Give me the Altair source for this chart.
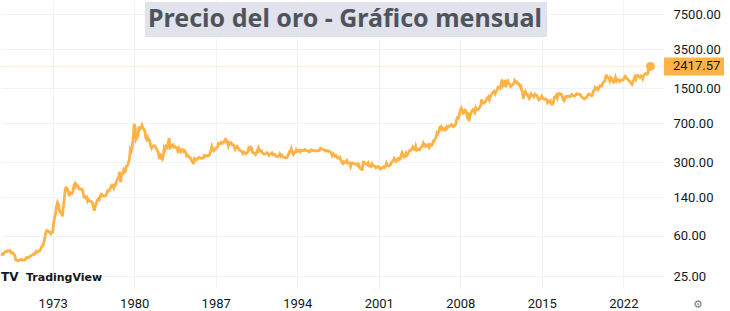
import altair as alt
import pandas as pd

closes_1968_1979 = [
    39.5, 40, 40.5, 40, 41.5, 42.5,
    42.5, 42.5, 43.5, 43.3, 43.5, 41.5, 42, 41, 40.5, 39, 35.5, 35.2,
    34.9, 34.9, 35.5, 35.6, 35.9, 35.4, 35.3, 35.4, 36.2, 37.5, 37.4, 37.4,
    38, 38.7, 38.9, 39.5, 40.5, 40.1, 41, 42.7, 42, 42.5, 43.5, 43.6,
    45.8, 48.3, 48.3, 52, 58, 65, 67.5, 67, 65.5, 64.8, 62.9, 64.9,
    65.1, 80, 90, 98, 115, 124, 118, 104, 100, 98, 92, 112,
    135, 168, 172, 168, 160, 143, 154, 154.1, 151.7, 158.5, 182, 188,
    176, 181.7, 178, 167, 167, 166, 166.7, 161, 141, 142.5, 137.9, 140.3,
    128, 132.3, 128.8, 128.4, 125.5, 123.8, 112.5, 104, 116, 123.2, 130.3, 134.5,
    132.3, 142.8, 148.9, 147.8, 143, 143, 144.1, 146.2, 154.1, 161.5, 160.5, 165,
    175.8, 182.3, 181, 170.9, 183.2, 183, 200.3, 208.1, 217.1, 242.6, 193.4, 226,
    233.7, 251.3, 240.1, 245.3, 274.6, 277.5, 294.7, 315.1, 397.3, 382, 415.7, 512,
]
closes_1980s = [
    690, 637, 494.5, 518, 535.5, 653, 614.2, 631.3, 670, 629, 619.8, 589.8,
    506.5, 489, 513.8, 482.8, 479.3, 426, 406, 425, 428.8, 427, 414.5, 397.5,
    387, 362.6, 320, 361.2, 325.3, 317.5, 342.9, 411.5, 397, 423.2, 414, 456.9,
    505, 408.5, 414.8, 429.3, 437.5, 416, 422, 414.3, 405, 382, 405, 382.4,
    373.8, 394.3, 394.3, 377.5, 384, 373.1, 342.4, 347.7, 341.3, 333, 329, 309,
    306.7, 287.8, 325.3, 321.4, 314, 317.8, 327.5, 333.3, 326.5, 325.1, 325.3, 326.8,
    345.5, 339.3, 344, 345.8, 343.2, 345.5, 357.5, 384.7, 423.2, 401, 383.5, 390.9,
    405.9, 405.9, 421.5, 453.3, 451, 447.3, 462.5, 453.4, 459.5, 468.8, 492.5, 484.1,
    458, 426.2, 456.9, 449, 455.5, 436.6, 436.8, 427.8, 397.8, 412.4, 422.6, 410.2,
    394, 387, 383.2, 377.6, 361.8, 373, 368.3, 359.8, 366.5, 375.3, 408.2, 398.6,
]
closes_1990s = [
    415.1, 407.7, 368.5, 367.8, 363.1, 352.2, 362.5, 387.8, 408.4, 379.5, 384.9, 386.2,
    366, 362.7, 355.7, 357.8, 360.4, 368.4, 362.9, 347.4, 354.9, 357.5, 366.3, 353.2,
    354.5, 353.3, 341.7, 336.4, 337.5, 343.4, 357.8, 340.3, 349, 339.3, 334.2, 332.9,
    329.5, 329.4, 337.8, 354.3, 377.5, 378.5, 401.8, 371.6, 355.5, 369.6, 370.9, 391.8,
    377.9, 381.6, 389.2, 376.5, 387.6, 388.3, 383.8, 386.4, 394.9, 389.1, 383.1, 383.3,
    374.9, 376.4, 392, 389.8, 384.3, 387.1, 383.4, 382.4, 384, 382.7, 387.8, 387,
    405.6, 400.7, 396.4, 393.8, 390.9, 382, 385.3, 386.5, 379, 379.5, 371.3, 369.3,
    345.5, 358.6, 348.2, 340.2, 345.6, 334.6, 326.4, 325.4, 332.1, 311.4, 296.8, 290.2,
    301.6, 297.4, 301, 310.7, 293.6, 296.3, 288.9, 273.4, 293.9, 292.3, 294.7, 287.8,
    287.1, 287.3, 279.5, 286.6, 268.6, 261.3, 255.6, 254.8, 299, 299.1, 291.4, 290.3,
]
closes_2000s = [
    283.3, 293.7, 276.8, 275.1, 272.3, 288.2, 276.8, 277, 273.7, 264.5, 269.1, 272.7,
    265.6, 266.7, 257.7, 263.2, 267.5, 270.6, 265.9, 273, 293.1, 278.8, 275.5, 276.5,
    282.3, 296.9, 301.4, 308.2, 326.6, 318.5, 304.7, 312.8, 323.7, 316.9, 319.1, 347.2,
    367.5, 347.5, 334.9, 336.8, 361.4, 346, 354.8, 375.6, 388, 386.3, 398.4, 416.3,
    399.8, 395.9, 423.7, 388.5, 393.3, 395.8, 391.4, 407.3, 415.7, 425.6, 453.4, 435.6,
    422.2, 435.5, 427.5, 435.7, 414.5, 437.1, 429, 433.3, 473.3, 470.8, 495.7, 513,
    568.8, 556, 582, 644, 653, 613.5, 632.5, 623.5, 599.3, 603.8, 646.7, 632,
    650.5, 664.2, 661.8, 677, 659.1, 650.5, 665.5, 672, 743, 789.5, 783.5, 833.8,
    923.3, 971.5, 933.5, 871, 885.8, 930.3, 918, 833, 884.5, 730.8, 814.5, 869.8,
    919.5, 942.5, 916.5, 883.3, 975.5, 934.5, 939, 955.5, 995.8, 1040, 1175.8, 1087.5,
]
closes_2010s = [
    1078.5, 1109, 1115.5, 1179.3, 1207.5, 1244, 1169, 1246, 1307, 1346.8, 1383.5, 1405.5,
    1332, 1411, 1439, 1535.5, 1536.5, 1505.5, 1628.5, 1813.5, 1620, 1722, 1746, 1531,
    1744, 1770, 1662.5, 1651.3, 1558, 1598.5, 1622, 1648.5, 1776, 1719, 1726, 1657.5,
    1664.8, 1588.5, 1598.3, 1469, 1394.5, 1192, 1314.5, 1394.8, 1326.5, 1324, 1253, 1204.5,
    1251, 1326.5, 1291.8, 1288.5, 1250.5, 1315, 1285.3, 1285.8, 1216.5, 1164.3, 1182.8, 1206,
    1260.3, 1214, 1187, 1180.3, 1191.4, 1171, 1098.4, 1135, 1114, 1142.4, 1065, 1060.3,
    1111, 1234.9, 1237, 1285.7, 1213.5, 1320.8, 1342, 1309, 1322.5, 1272, 1173, 1146,
    1212.8, 1255.6, 1244.9, 1266.5, 1266.2, 1242.3, 1266.6, 1311.8, 1283.1, 1270.2, 1276.6, 1291,
    1331.3, 1317.9, 1323.9, 1315, 1303, 1250.5, 1223.5, 1201.5, 1187.3, 1214.6, 1222.7, 1279,
    1321.4, 1319.7, 1295.4, 1282.3, 1283.7, 1409, 1419.9, 1523, 1485.3, 1510.9, 1463.5, 1523,
]
closes_2020s = [
    1589.2, 1582.2, 1577.2, 1686.5, 1715.9, 1768.1, 1962.8, 1967.5, 1886.9, 1879.9, 1762.6, 1895,
    1847.7, 1743.3, 1707.7, 1768.6, 1903.9, 1763.2, 1814.9, 1812.9, 1742.8, 1783.4, 1774.3, 1806.9,
    1797.2, 1900.7, 1954, 1911.3, 1837, 1817, 1765.9, 1726.6, 1671.8, 1640.6, 1753.5, 1812.4,
    1927.7, 1836.7, 1969.3, 1990.8, 1962.9, 1912.3, 1965.1, 1940.2, 1848.6, 1983.9, 2035.5, 2062.9,
    2039.5, 2044.3, 2229.9, 2286.3, 2417.57,
]
first_month = "1968-07-01"
y_ticks = [25, 60, 140, 300, 700, 1500, 3500, 7500]
x_tick_years = [1973, 1980, 1987, 1994, 2001, 2008, 2015, 2022]
title_text = "Precio del oro - Gráfico mensual"
last_label = "2417.57"

prices = (closes_1968_1979 + closes_1980s + closes_1990s
          + closes_2000s + closes_2010s + closes_2020s)
dates = pd.date_range(first_month, periods=len(prices), freq="MS").strftime("%Y-%m-%d")
df = pd.DataFrame({"date": dates, "price": prices})
last = df.tail(1).assign(label=last_label)

ORANGE = "#FFB347"
TXT = "#131722"
AXFONT = "Roboto"

x_enc = alt.X(
    "date:T",
    scale=alt.Scale(
        type="utc",
        domain=[alt.DateTime(year=1968, month=7, date=24, utc=True),
                alt.DateTime(year=2025, month=6, date=30, utc=True)],
    ),
    axis=alt.Axis(
        title=None, values=[alt.DateTime(year=y, month=1, date=1, utc=True) for y in x_tick_years],
        formatType="utc", format="%Y", grid=True, gridColor="#f0f3fa", domain=False,
        ticks=False, labelPadding=9, labelFontSize=13, labelColor=TXT, labelFont=AXFONT,
        labelFlush=False,
    ),
)
y_enc = alt.Y(
    "price:Q",
    scale=alt.Scale(type="log", domain=[19.25, 10285], nice=False),
    axis=alt.Axis(
        title=None, orient="right", values=y_ticks, format=".2f", grid=True,
        gridColor="#f0f3fa", domain=False, ticks=False, labelPadding=9,
        labelAlign="left", labelFontSize=13, labelColor=TXT, labelFont=AXFONT,
    ),
)

line = alt.Chart(df).mark_line(color=ORANGE, strokeWidth=2.8, clip=True).encode(x=x_enc, y=y_enc)
price_line = alt.Chart(last).mark_rule(color=ORANGE, opacity=0.22, strokeWidth=1).encode(y=y_enc)
dot = alt.Chart(last).mark_circle(color=ORANGE, opacity=1, size=80).encode(x=x_enc, y=y_enc)
label_box = alt.Chart(last).mark_point(
    shape="M-1,-0.3H1V0.3H-1Z", size=3600, filled=True, opacity=1, color=ORANGE, strokeWidth=0
).encode(x=alt.value(693), y=y_enc)
label_txt = alt.Chart(last).mark_text(
    align="left", baseline="middle", font=AXFONT, fontSize=13, color=TXT
).encode(x=alt.value(672), y=y_enc, text="label:N")

deco = pd.DataFrame({"t": [title_text]})
title_box = alt.Chart(deco).mark_rect(color="#e0e3eb").encode(
    x=alt.value(144), x2=alt.value(546), y=alt.value(2), y2=alt.value(37)
)
title = alt.Chart(deco).mark_text(
    font="Noto Sans", fontSize=25, fontWeight="bold", color="#50535e",
    align="center", baseline="alphabetic"
).encode(x=alt.value(344), y=alt.value(27), text="t:N")

logo_df = pd.DataFrame({"icon": ["TV"], "name": ["TradingView"], "gear": ["⚙"]})
logo_icon = alt.Chart(logo_df).mark_text(
    font="DejaVu Sans", fontSize=12, fontWeight="bold", color=TXT, align="left", baseline="alphabetic"
).encode(x=alt.value(0), y=alt.value(281), text="icon:N")
logo_name = alt.Chart(logo_df).mark_text(
    font="DejaVu Sans", fontSize=11, fontWeight="bold", color=TXT, align="left", baseline="alphabetic"
).encode(x=alt.value(25), y=alt.value(281), text="name:N")
gear = alt.Chart(logo_df).mark_text(
    font="DejaVu Sans", fontSize=11, color="#787b86", align="center", baseline="middle"
).encode(x=alt.value(697), y=alt.value(305), text="gear:N")

chart = alt.layer(
    price_line, line, dot, label_box, label_txt, title_box, title, logo_icon, logo_name, gear
).properties(width=663, height=288, padding=0, background="white").configure_view(stroke=None)

chart.save("out.html", embed_options={"renderer": "svg", "actions": False})
